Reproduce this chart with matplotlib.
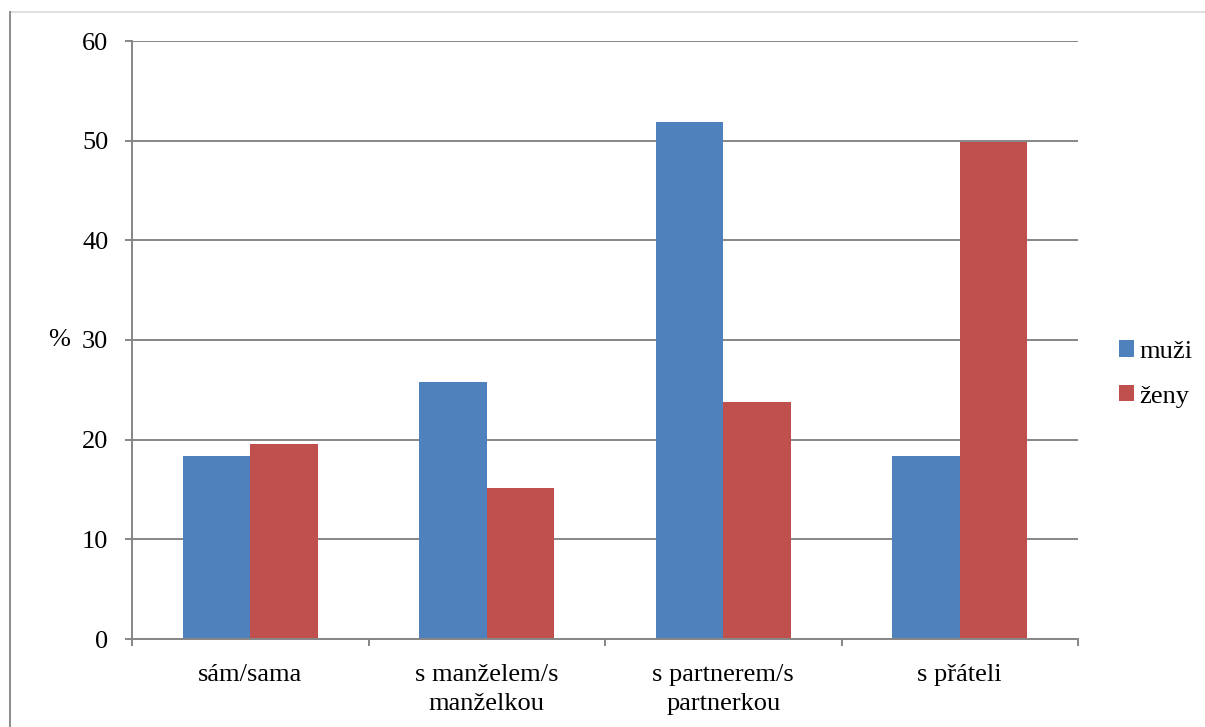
import numpy as np
import matplotlib.pyplot as plt
from matplotlib.lines import Line2D

# Podíly respondentů podle toho, s kým tráví čas (v %)
categories = ['sám/sama', 's manželem/s\nmanželkou', 's partnerem/s\npartnerkou', 's přáteli']
muzi = [18.4, 25.8, 51.9, 18.4]
zeny = [19.6, 15.2, 23.8, 49.9]
series_names = ['muži', 'ženy']
yticks = [0, 10, 20, 30, 40, 50, 60]

plt.rcParams['font.family'] = ['Liberation Serif', 'DejaVu Serif']
grey = '#868686'
fs = 19

fig = plt.figure(figsize=(12.05, 7.27), dpi=100)
ax = fig.add_axes([132/1205, 1 - 639/727, 946/1205, 598/727])

x = np.arange(len(categories))
w = 0.285
ax.bar(x - w/2, muzi, w, color='#4F81BD', label=series_names[0])
ax.bar(x + w/2, zeny, w, color='#C0504D', label=series_names[1])

ax.set_xlim(-0.5, len(categories) - 0.5)
ax.set_ylim(0, 60)
ax.set_yticks(yticks)
ax.set_axisbelow(True)
ax.yaxis.grid(True, color=grey, linewidth=1.4)

ax.set_xticks(x)
ax.set_xticklabels(categories, fontsize=fs, linespacing=1.4)
ax.tick_params(axis='x', length=0, pad=18)
# dělicí značky mezi kategoriemi
ax.set_xticks(np.arange(len(categories) + 1) - 0.5, minor=True)
ax.tick_params(axis='x', which='minor', length=5, width=1.4, color=grey, direction='out')
ax.tick_params(axis='y', length=5, width=1.4, color=grey, labelsize=fs, pad=12)

for s in ['top', 'right']:
    ax.spines[s].set_visible(False)
for s in ['left', 'bottom']:
    ax.spines[s].set_color(grey)
    ax.spines[s].set_linewidth(1.4)

ax.set_ylabel('%', rotation=0, fontsize=fs, labelpad=9, va='center', ha='right')

ax.legend(loc='center left', bbox_to_anchor=(1119/1205, 1 - 374/727),
          bbox_transform=fig.transFigure, frameon=False, fontsize=fs,
          handlelength=0.57, handleheight=0.57, handletextpad=0.2,
          labelspacing=0.85, borderaxespad=0, borderpad=0)

# okraj grafu
fig.add_artist(Line2D([10/1205, 1], [1 - 12/727, 1 - 12/727], color='#d9d9d9', lw=1.2))
fig.add_artist(Line2D([10/1205, 10/1205], [0, 1 - 12/727], color='#8c8c8c', lw=1.4))

fig.savefig('out.png', dpi=100)
